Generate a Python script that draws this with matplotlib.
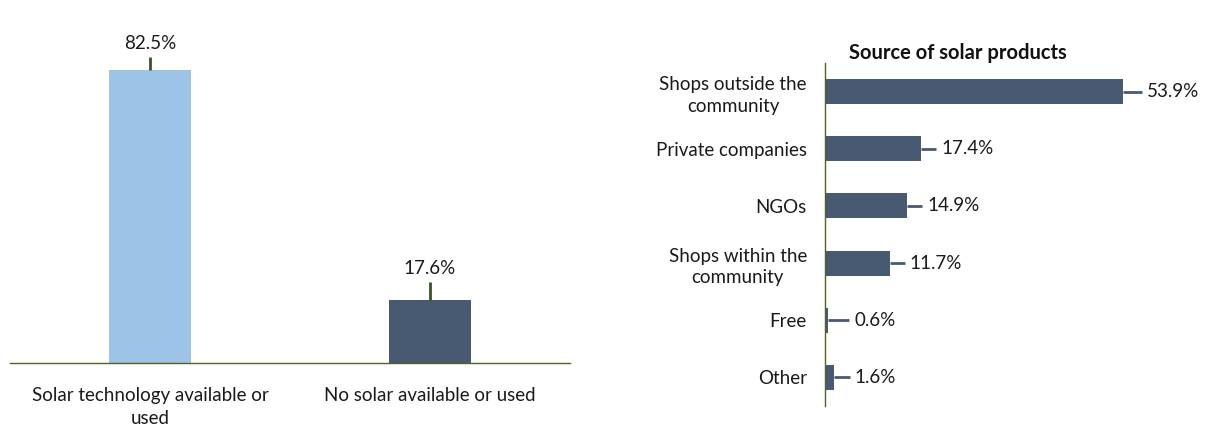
import matplotlib
matplotlib.use("Agg")
import matplotlib.pyplot as plt

plt.rcParams['font.family'] = ['Lato', 'DejaVu Sans']

# Left chart data
left_cats = ["Solar technology available or\nused", "No solar available or used"]
left_vals = [82.5, 17.6]
left_errs = [3.7, 5.2]
left_labels = ["82.5%", "17.6%"]

# Right chart data
right_cats = ["Shops outside the\ncommunity", "Private companies", "NGOs",
              "Shops within the\ncommunity", "Free", "Other"]
right_vals = [53.9, 17.4, 14.9, 11.7, 0.6, 1.6]
right_errs = [3.4, 2.7, 2.7, 2.7, 3.8, 2.9]
right_labels = ["53.9%", "17.4%", "14.9%", "11.7%", "0.6%", "1.6%"]
right_title = "Source of solar products"

W, H = 1208, 429
fig = plt.figure(figsize=(W/100, H/100), dpi=100)

dark = "#475a72"
light = "#9dc3e6"
green = "#4f6228"
errgreen = "#375623"
fs = 13.5
tc = '#1a1a1a'

# Left axes
axL = fig.add_axes([10/W, (H-363)/H, 560/W, (363-20)/H])
xs = list(range(len(left_vals)))
axL.bar(xs, left_vals, width=0.29, color=[light, dark], zorder=2)
axL.errorbar(xs, left_vals, yerr=[[0]*len(left_errs), left_errs], fmt='none',
             ecolor=errgreen, elinewidth=2, capsize=0, zorder=3)
for x, v, e, t in zip(xs, left_vals, left_errs, left_labels):
    axL.text(x, v + e + 1.4, t, ha='center', va='bottom', fontsize=fs, color=tc)
axL.set_xlim(-0.5, 1.5)
axL.set_ylim(0, 343/3.552)
axL.set_xticks(xs)
axL.set_xticklabels(left_cats, fontsize=fs, color=tc, linespacing=1.45)
axL.tick_params(axis='x', length=0, pad=17)
axL.set_yticks([])
for s in ['top', 'right', 'left']:
    axL.spines[s].set_visible(False)
axL.spines['bottom'].set_color(green)
axL.spines['bottom'].set_linewidth(1)

# Right axes
axR = fig.add_axes([825/W, (H-406)/H, 375/W, (406-63)/H])
ys = list(range(len(right_vals)))
axR.barh(ys, right_vals, height=0.44, color=dark, zorder=2)
axR.errorbar(right_vals, ys, xerr=[[0]*len(right_errs), right_errs], fmt='none',
             ecolor=dark, elinewidth=2, capsize=0, zorder=3)
for y, v, e, t in zip(ys, right_vals, right_errs, right_labels):
    axR.text(v + e + 0.9, y, t, ha='left', va='center', fontsize=fs, color=tc)
axR.set_ylim(5.5, -0.5)
axR.set_xlim(0, 375/5.53)
axR.set_yticks(ys)
axR.set_yticklabels(right_cats, fontsize=fs, color=tc, multialignment='center',
                    linespacing=1.35)
axR.tick_params(axis='y', length=0, pad=13)
axR.set_xticks([])
for s in ['top', 'right', 'bottom']:
    axR.spines[s].set_visible(False)
axR.spines['left'].set_color(green)
axR.spines['left'].set_linewidth(1)

fig.text(958/W, 1 - 53/H, right_title, ha='center', va='center',
         fontsize=14.5, fontweight='bold', color='#111111')

fig.savefig("out.png", dpi=100)
